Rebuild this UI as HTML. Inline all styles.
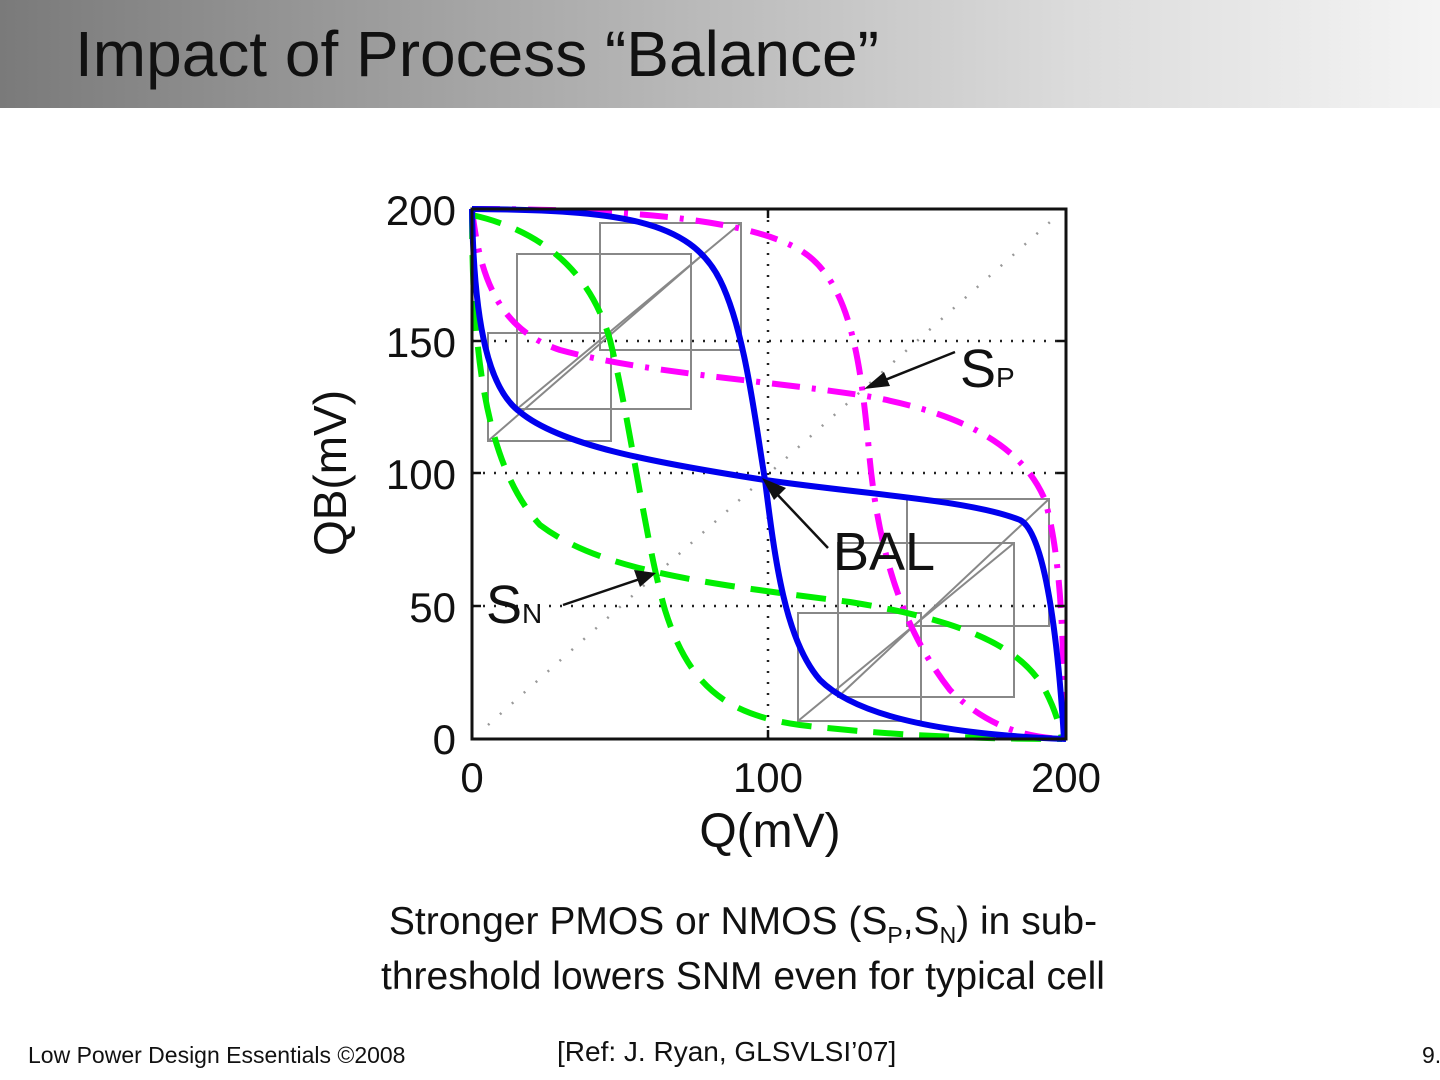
<!DOCTYPE html>
<html><head><meta charset="utf-8"><style>
body{margin:0;width:1440px;height:1080px;background:#fff;position:relative;overflow:hidden;font-family:"Liberation Sans",sans-serif}
.bar{position:absolute;left:0;top:0;width:1440px;height:108px;background:linear-gradient(90deg,#7a7a7a 0%,#a8a8a8 35%,#dcdcdc 75%,#f4f4f4 100%)}
.t{position:absolute;left:75px;top:17px;font-size:64px;color:#111}
.cap{position:absolute;left:243px;width:1000px;text-align:center;font-size:39px;color:#111}
.ft{position:absolute;font-size:23px;color:#111}
</style></head><body>
<div class="bar"></div>
<div class="t">Impact of Process “Balance”</div>
<svg width="1440" height="1080" style="position:absolute;left:0;top:0" font-family="Liberation Sans, sans-serif">
<g stroke="#222" stroke-width="2.5" stroke-dasharray="2,9" fill="none">
<line x1="768" y1="209" x2="768" y2="739"/><line x1="472" y1="341" x2="1066" y2="341"/><line x1="472" y1="473" x2="1066" y2="473"/><line x1="472" y1="606" x2="1066" y2="606"/>
</g>
<line x1="488" y1="725" x2="1050" y2="222" stroke="#999" stroke-width="2.5" stroke-dasharray="2,14"/>
<g stroke="#888" stroke-width="2" fill="none">
<rect x="488" y="333" width="123" height="108"/><rect x="517" y="254" width="174" height="155"/><rect x="600" y="223" width="141" height="127"/>
<line x1="517" y1="409" x2="741" y2="223"/><line x1="488" y1="441" x2="700" y2="257"/>
<rect x="798" y="613" width="123" height="108"/><rect x="838" y="543" width="176" height="154"/><rect x="907" y="499" width="142" height="127"/>
<line x1="838" y1="697" x2="1049" y2="499"/><line x1="798" y1="721" x2="1014" y2="543"/>
</g>
<g fill="none" stroke-width="6">
<path stroke="#ff00ff" stroke-dasharray="28,12,4,12" d="M472 209 C600 209 740 215 800 250 C850 280 860 360 868 440 C875 530 895 620 950 690 C990 730 1030 737 1062 739"/>
<path stroke="#ff00ff" stroke-dasharray="28,12,4,12" d="M472 209 C480 280 500 330 560 350 C640 372 760 380 860 395 C950 410 1020 440 1045 500 C1062 560 1064 650 1064 739"/>
<path stroke="#00ee00" stroke-dasharray="30,16" d="M472 215 C540 230 590 270 610 340 C630 420 645 540 665 610 C690 690 730 715 800 725 C900 737 1000 739 1062 739"/>
<path stroke="#00ee00" stroke-dasharray="30,16" d="M472 209 C472 330 480 460 540 525 C600 570 700 583 850 602 C960 620 1020 645 1045 690 C1058 715 1060 730 1062 739"/>
<path stroke="#0000ee" d="M472 209 C620 210 690 220 720 280 C745 330 755 420 765 480 C775 560 785 640 820 680 C860 720 960 735 1066 739"/>
<path stroke="#0000ee" d="M472 209 C474 330 490 390 520 412 C560 445 650 462 765 480 C870 495 970 500 1020 520 C1045 532 1058 640 1064 739"/>
</g>
<rect x="472" y="209" width="594" height="530" fill="none" stroke="#111" stroke-width="3"/>
<g stroke="#111" stroke-width="2.5"><line x1="768" y1="209" x2="768" y2="218"/><line x1="768" y1="739" x2="768" y2="730"/><line x1="472" y1="341" x2="481" y2="341"/><line x1="472" y1="473" x2="481" y2="473"/><line x1="472" y1="606" x2="481" y2="606"/><line x1="1066" y1="341" x2="1057" y2="341"/><line x1="1066" y1="473" x2="1057" y2="473"/><line x1="1066" y1="606" x2="1057" y2="606"/></g>
<g font-size="42" fill="#111" text-anchor="end">
<text x="456" y="225">200</text><text x="456" y="357">150</text><text x="456" y="489">100</text><text x="456" y="622">50</text><text x="456" y="754">0</text></g>
<g font-size="42" fill="#111" text-anchor="middle">
<text x="472" y="792">0</text><text x="768" y="792">100</text><text x="1066" y="792">200</text>
<text x="770" y="847" font-size="48">Q(mV)</text>
<text transform="translate(346,473) rotate(-90)" font-size="46">QB(mV)</text></g>
<g fill="#111" font-size="54">
<text x="960" y="387">S<tspan font-size="28">P</tspan></text>
<text x="833" y="570">BAL</text>
<text x="486" y="623">S<tspan font-size="28">N</tspan></text></g>
<g stroke="#111" stroke-width="2.5"><line x1="955" y1="352" x2="880" y2="382"/><line x1="828" y1="548" x2="775" y2="492"/><line x1="563" y1="605" x2="640" y2="579"/></g>
<g fill="#111"><polygon points="864,389 884,372 890,386"/><polygon points="762,478 786,488 774,500"/><polygon points="656,573 634,570 640,587"/></g>
</svg>
<div class="cap" style="top:900px">Stronger PMOS or NMOS (S<sub style="font-size:23px">P</sub>,S<sub style="font-size:23px">N</sub>) in sub-</div>
<div class="cap" style="top:955px">threshold lowers SNM even for typical cell</div>
<div class="ft" style="left:28px;top:1042px">Low Power Design Essentials ©2008</div>
<div class="ft" style="left:557px;top:1036px;font-size:28px">[Ref: J. Ryan, GLSVLSI’07]</div>
<div class="ft" style="left:1422px;top:1042px">9.</div>
</body></html>
